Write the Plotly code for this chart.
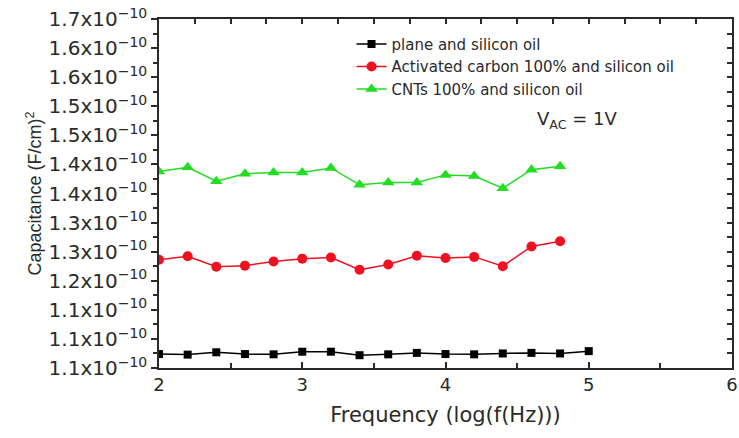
import plotly.graph_objects as go

# Data (capacitance in units of 1e-10)
freq_plane = [2.0, 2.2, 2.4, 2.6, 2.8, 3.0, 3.2, 3.4, 3.6, 3.8, 4.0, 4.2, 4.4, 4.6, 4.8, 5.0]
cap_plane = [1.124, 1.123, 1.127, 1.124, 1.1235, 1.128, 1.128, 1.122, 1.1235, 1.126,
             1.124, 1.1235, 1.125, 1.126, 1.125, 1.129]

freq_ac = [2.0, 2.2, 2.4, 2.6, 2.8, 3.0, 3.2, 3.4, 3.6, 3.8, 4.0, 4.2, 4.4, 4.6, 4.8]
cap_ac = [1.286, 1.292, 1.274, 1.276, 1.283, 1.288, 1.290, 1.269, 1.278, 1.293,
          1.289, 1.291, 1.275, 1.309, 1.318]

freq_cnt = [2.0, 2.2, 2.4, 2.6, 2.8, 3.0, 3.2, 3.4, 3.6, 3.8, 4.0, 4.2, 4.4, 4.6, 4.8]
cap_cnt = [1.438, 1.445, 1.421, 1.434, 1.436, 1.436, 1.444, 1.415, 1.419, 1.419,
           1.432, 1.430, 1.409, 1.441, 1.447]

y_tickvals = [1.10, 1.15, 1.20, 1.25, 1.30, 1.35, 1.40, 1.45, 1.50, 1.55, 1.60, 1.65, 1.70]
y_ticklabels = ["1.1", "1.1", "1.1", "1.2", "1.3", "1.3", "1.4", "1.4", "1.5", "1.5", "1.6", "1.6", "1.7"]
x_tickvals = [2, 3, 4, 5, 6]

SCALE = 1e-10
WIDE = "DejaVu Sans, Verdana, sans-serif"
NARROW = "Liberation Sans, Arial, sans-serif"
AX = "#2a2a2a"
TXT = "#2a2a2a"

fig = go.Figure()

series = [
    (freq_plane, cap_plane, "plane and silicon oil", "#000000", "square", 8),
    (freq_ac, cap_ac, "Activated carbon 100% and silicon oil", "#f01020", "circle", 10),
    (freq_cnt, cap_cnt, "CNTs 100% and silicon oil", "#22dd22", "triangle-up", 11),
]
for xs, ys, name, col, sym, sz in series:
    fig.add_trace(go.Scatter(
        x=xs, y=[v * SCALE for v in ys], name=name, mode="lines+markers",
        line=dict(color=col, width=1.5),
        marker=dict(color=col, symbol=sym, size=sz),
    ))

# invisible trace to activate mirror axes
fig.add_trace(go.Scatter(x=[2], y=[1.1 * SCALE], xaxis="x2", yaxis="y2",
                         mode="markers", marker=dict(opacity=0), showlegend=False,
                         hoverinfo="skip"))

yr = [1.10 * SCALE, 1.70 * SCALE]
fig.update_layout(
    width=739, height=438,
    margin=dict(l=159, r=7, t=19, b=70, autoexpand=False),
    paper_bgcolor="white", plot_bgcolor="white",
    font=dict(family=WIDE, color=TXT),
    showlegend=True,
    legend=dict(x=0.336, y=0.975, xanchor="left", yanchor="top",
                bgcolor="rgba(0,0,0,0)", font=dict(size=15, color=TXT, family=WIDE),
                itemwidth=30, tracegroupgap=0),
    xaxis=dict(range=[2, 6], tickvals=x_tickvals, ticktext=[str(v) for v in x_tickvals],
               automargin=False, ticklabeloverflow="allow",
               ticks="inside", ticklen=6, tickwidth=1.5, tickcolor=AX,
               showline=True, linecolor=AX, linewidth=1.5, showgrid=False, zeroline=False,
               minor=dict(dtick=0.5, tick0=2, ticks="inside", ticklen=5, tickwidth=1.5, tickcolor=AX),
               tickfont=dict(size=18, family=WIDE),
               title=dict(text="Frequency (log(f(Hz)))", font=dict(size=21, family=WIDE), standoff=13)),
    yaxis=dict(range=yr, tickvals=[v * SCALE for v in y_tickvals],
               ticktext=[t + "x10<sup>\u221210</sup>" for t in y_ticklabels],
               automargin=False, ticklabeloverflow="allow",
               ticks="outside", ticklen=6, tickwidth=1.5, tickcolor=AX,
               showline=True, linecolor=AX, linewidth=1.5, showgrid=False, zeroline=False,
               minor=dict(dtick=0.025 * SCALE, tick0=1.1 * SCALE, ticks="outside", ticklen=4,
                          tickwidth=1.5, tickcolor=AX),
               tickfont=dict(size=20, family=WIDE),
               title=dict(text="Capacitance (F/cm)<sup>2</sup>", font=dict(size=18, family=NARROW), standoff=2)),
    xaxis2=dict(overlaying="x", side="top", range=[2, 6], dtick=0.25, tick0=2, automargin=False,
                ticks="inside", ticklen=5, tickwidth=1.5, tickcolor=AX, showticklabels=False,
                showline=True, linecolor=AX, linewidth=1.5, showgrid=False, zeroline=False),
    yaxis2=dict(overlaying="y", side="right", range=yr, dtick=0.025 * SCALE, tick0=1.1 * SCALE,
                automargin=False,
                ticks="inside", ticklen=5, tickwidth=1.5, tickcolor=AX, showticklabels=False,
                showline=True, linecolor=AX, linewidth=1.5, showgrid=False, zeroline=False),
)

fig.add_annotation(text="V<sub>AC</sub> = 1V", x=0.73, y=0.71, xref="paper", yref="paper",
                   showarrow=False, font=dict(size=18, color=TXT, family=WIDE),
                   xanchor="center", yanchor="middle")

fig.write_html("out.html", config={"displayModeBar": False},
               post_script="document.body.style.margin='0';document.body.style.overflow='hidden';")
